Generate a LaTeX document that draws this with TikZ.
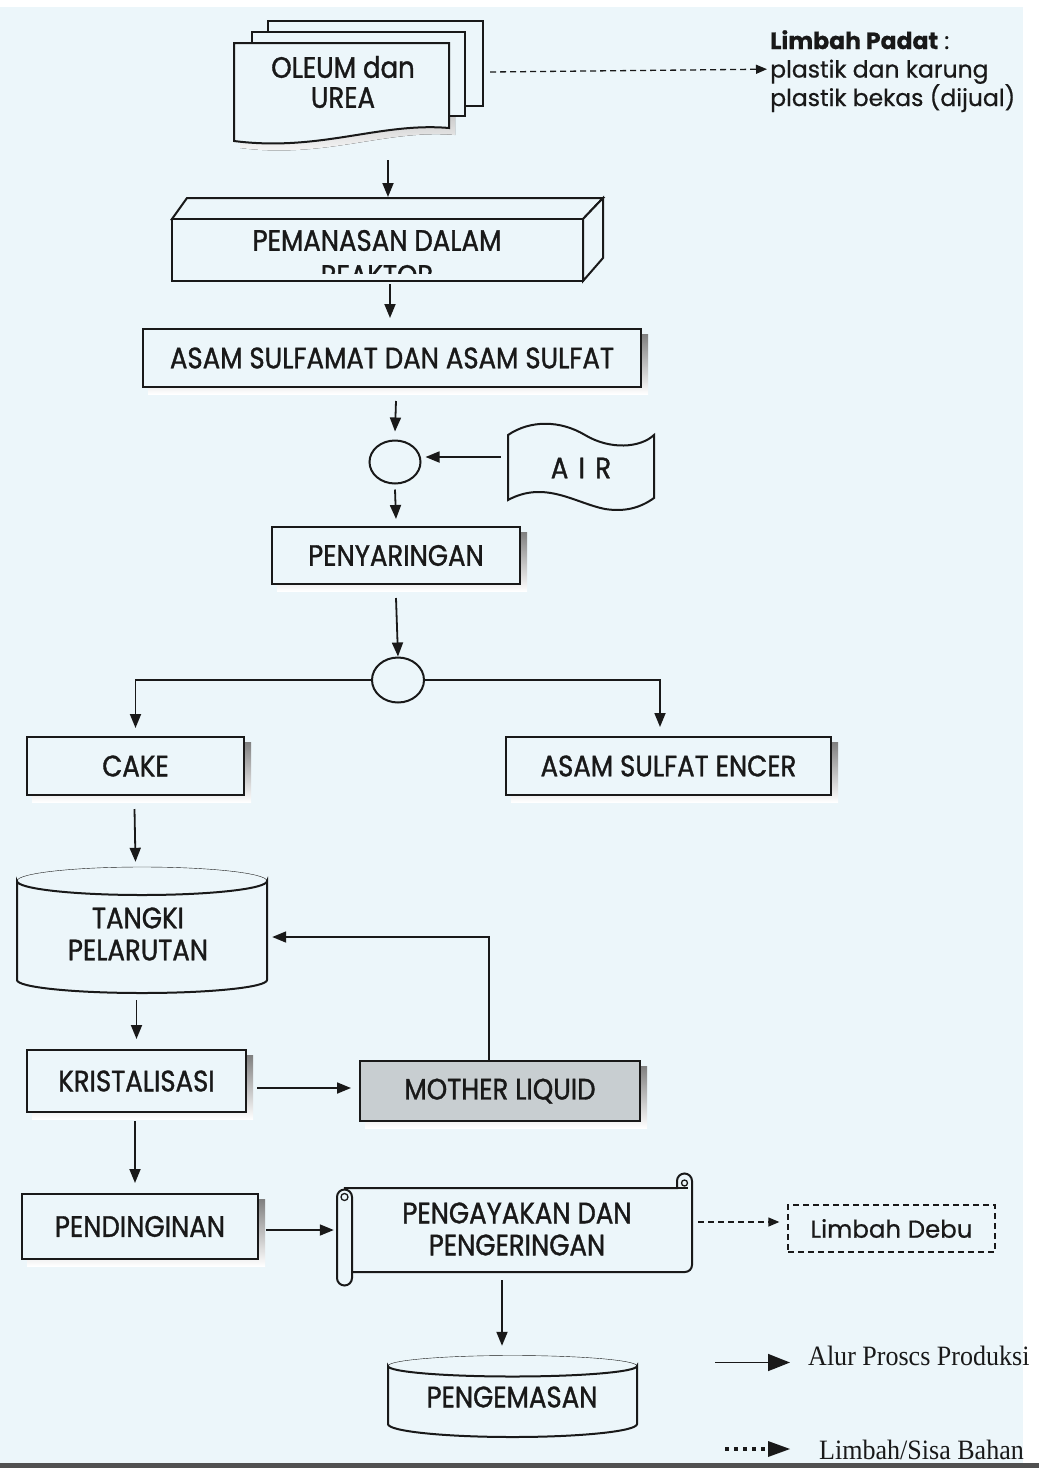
\documentclass[tikz,border=0pt]{standalone}
\usepackage{fontspec}
\setmainfont{Poppins}[FakeBold=0.6]
\newfontfamily\cg[FakeStretch=0.88,FakeBold=1.2]{Poppins}
\newfontfamily\tms[FakeStretch=0.93]{Liberation Serif}
\usetikzlibrary{arrows.meta,shapes.geometric}
\pgfdeclarelayer{bg}
\pgfsetlayers{bg,main}
\definecolor{paper}{RGB}{236,246,250}
\definecolor{ink}{RGB}{25,25,25}
\definecolor{shade}{RGB}{205,211,214}
\definecolor{mfill}{RGB}{200,206,209}
\definecolor{edge}{RGB}{80,80,80}
\begin{document}
\begin{tikzpicture}[x=1pt,y=-1pt,line width=2pt,
  every node/.style={text=ink},
  lbl/.style={font=\cg\fontsize{29.5}{31}\selectfont, align=center, inner sep=0pt},
  pbox/.style={lbl, draw=ink, line width=2pt, rectangle, fill=paper},
  zone/.style={inner sep=0pt, draw=none},
  ell/.style={draw=ink, line width=2pt, ellipse, inner sep=0pt, fill=paper},
  arr/.style={draw=ink, line width=1.8pt, -{Triangle[length=14pt,width=11pt]}},
  darr/.style={draw=ink, line width=1.3pt, dash pattern=on 6pt off 4pt, -{Triangle[length=11pt,width=9pt]}},
  legsolid/.style={draw=ink, line width=1.6pt, -{Triangle[length=22pt,width=17pt]}},
  legdot/.style={draw=ink, line width=4pt, dash pattern=on 4pt off 5pt, -{Triangle[length=22pt,width=16pt,line width=0pt]}},
  figshape/.style={draw=ink, line width=2pt, fill=paper}]
\useasboundingbox (0,0) rectangle (1039,1468);
\begin{pgfonlayer}{bg}
  \fill[paper] (0,0) rectangle (1039,1468);
  \fill[white] (0,0) rectangle (1039,7);
  \fill[white] (1023,0) rectangle (1039,1468);
  \fill[edge] (0,1463) rectangle (1039,1468);
\end{pgfonlayer}

% ---------- OLEUM dan UREA (multi document)
\filldraw[figshape] (268,21) rectangle (483,106);
\filldraw[figshape] (252,32) rectangle (465,116);
\filldraw[figshape] (234,43) -- (449,43) -- (449,128) .. controls (380,122) and (320,152) .. (234,141) -- cycle;
\node[zone, minimum width=249, minimum height=127] (oleumdoc) at (358.5,84.5) {};
\node[lbl, font=\cg\fontsize{29.5}{30}\selectfont] (oleum) at (343,82) {OLEUM dan\\UREA};

\node[font=\fontsize{23.5}{28.5}\selectfont, align=left, anchor=north west, inner sep=0pt] (padat) at (770,30)
  {\textbf{Limbah Padat} :\\plastik dan karung\\plastik bekas (dijual)};

% ---------- PEMANASAN DALAM REAKTOR (3D box)
\filldraw[figshape] (172,219) -- (187,198) -- (603,198) -- (583,219) -- cycle;
\filldraw[figshape] (583,219) -- (603,198) -- (603,258) -- (583,281) -- cycle;
\node[pbox, minimum width=411, minimum height=62] (reaktor) at (377.5,250) {};
\begin{scope}
  \clip (173,220) rectangle (582,273);
  \node[lbl, font=\cg\fontsize{29.5}{35}\selectfont] (reaktortxt) at (377,258) {PEMANASAN DALAM\\REAKTOR};
\end{scope}

% ---------- boxes
\node[pbox, minimum width=498, minimum height=58] (sulfamat) at (392,358) {ASAM SULFAMAT DAN ASAM SULFAT};
\node[ell, minimum width=51, minimum height=43] (mix1) at (395,462) {};

% AIR flag
\filldraw[figshape] (508,435) .. controls (530,420) and (560,420) .. (585,435)
  .. controls (610,450) and (640,448) .. (654,435) -- (654,498)
  .. controls (640,508) and (625,512) .. (605,509)
  .. controls (575,503) and (545,480) .. (508,500) -- cycle;
\node[zone, minimum width=146, minimum height=77] (air) at (581,467) {};
\node[lbl] (airtxt) at (581,468) {A\hspace{.35em}I\hspace{.35em}R};

\node[pbox, minimum width=248, minimum height=57] (penyaring) at (396,555.5) {PENYARINGAN};
\node[ell, minimum width=52, minimum height=45] (mix2) at (398,680) {};
\node[pbox, minimum width=217, minimum height=58] (cake) at (135.5,766) {CAKE};
\node[pbox, minimum width=325, minimum height=58] (encer) at (668.5,766) {ASAM SULFAT ENCER};

% TANGKI PELARUTAN (cylinder)
\filldraw[figshape] (17,881) -- (17,980) arc[start angle=180,end angle=0,x radius=125,y radius=13]
  -- (267,881) arc[start angle=0,end angle=180,x radius=125,y radius=14] -- cycle;
\draw[draw=ink] (142,881) ellipse[x radius=125,y radius=14];
\node[zone, minimum width=250, minimum height=127] (tangki) at (142,930.5) {};
\node[lbl, font=\cg\fontsize{29.5}{32}\selectfont] (tangkitxt) at (138,934) {TANGKI\\PELARUTAN};

\node[pbox, minimum width=219, minimum height=62] (kristal) at (136.5,1081) {KRISTALISASI};
\node[pbox, fill=mfill, minimum width=280, minimum height=60] (mother) at (500,1091) {MOTHER LIQUID};
\node[pbox, minimum width=236, minimum height=65] (pendingin) at (140,1226.5) {PENDINGINAN};

% PENGAYAKAN DAN PENGERINGAN (scroll)
\filldraw[figshape] (345,1188) -- (677,1188) -- (677,1181) arc[start angle=180,end angle=360,radius=7.5]
  -- (692,1265) arc[start angle=0,end angle=90,radius=7] -- (350,1272) -- cycle;
\draw[draw=ink, line width=1.3pt] (684.5,1183) circle[radius=3];
\draw[draw=ink, line width=1.3pt] (677,1188) -- (688,1188);
\filldraw[figshape] (337,1197) -- (337,1278) arc[start angle=180,end angle=0,radius=7.5]
  -- (352,1197) arc[start angle=0,end angle=-180,radius=7.5] -- cycle;
\draw[draw=ink, line width=1.3pt] (344.5,1197) circle[radius=3.5];
\node[zone, minimum width=355, minimum height=109] (ayak) at (514.5,1230.5) {};
\node[lbl, font=\cg\fontsize{29.5}{32}\selectfont] (ayaktxt) at (517,1229) {PENGAYAKAN DAN\\PENGERINGAN};

\node[draw=ink, line width=1.3pt, dash pattern=on 6pt off 4pt, inner sep=0pt, minimum width=207, minimum height=47,
  font=\fontsize{24.5}{25}\selectfont] (debu) at (891.5,1228.5) {Limbah Debu};

% PENGEMASAN (cylinder)
\filldraw[figshape] (388,1366) -- (388,1424) arc[start angle=180,end angle=0,x radius=124.5,y radius=13]
  -- (637,1366) arc[start angle=0,end angle=180,x radius=124.5,y radius=10.5] -- cycle;
\draw[draw=ink] (512.5,1366) ellipse[x radius=124.5,y radius=10.5];
\node[zone, minimum width=249, minimum height=81] (kemas) at (512.5,1396.5) {};
\node[lbl] (kemastxt) at (512,1397) {PENGEMASAN};

% ---------- connectors
\draw[arr] ([shift={(29.5,75.5)}]oleumdoc.center) -- ([shift={(10.5,-21)}]reaktor.north);
\draw[darr] ([shift={(7,-12.5)}]oleumdoc.east) -- ([shift={(-3,-2)}]padat.west);
\draw[arr] ([shift={(12.5,2)}]reaktor.south) -- ([shift={(-2,-10)}]sulfamat.north);
\draw[arr] ([shift={(4,13)}]sulfamat.south) -- ([yshift=8pt]mix1.north);
\draw[arr] ([shift={(-7,-10)}]air.west) -- ([shift={(4,-5)}]mix1.east);
\draw[arr] ([yshift=-5pt]mix1.south) -- ([yshift=7pt]penyaring.north);
\draw[arr] ([yshift=-13pt]penyaring.south) -- (mix2.north);
\draw[arr] (mix2.west) -| ([yshift=8pt]cake.north);
\draw[arr] (mix2.east) -| ([shift={(-8.5,-9)}]encer.north);
\draw[arr] ([shift={(-1,13)}]cake.south) -- ([yshift=5pt]cake.south |- tangki.north);
\draw[arr] ([yshift=-6pt]kristal.north |- tangki.south) -- ([yshift=10pt]kristal.north);
\draw[arr] ([shift={(10,7)}]kristal.east) -- ([shift={(-8,-3)}]mother.west);
\draw[arr] ([xshift=-11pt]mother.north) |- ([shift={(5,6.5)}]tangki.east);
\draw[arr] ([shift={(-1.5,8)}]kristal.south) -- ([shift={(-1.5,-10)}]kristal.south |- pendingin.north);
\draw[arr] ([shift={(7,3.5)}]pendingin.east) -- ([shift={(-3,-0.5)}]ayak.west);
\draw[darr] ([shift={(6,-8.5)}]ayak.east) -- ([shift={(-8,-6.5)}]debu.west);
\draw[arr] ([shift={(-12.5,-5)}]ayak.south) -- ([shift={(-10.5,-10)}]kemas.north);

% ---------- legend
\node[font=\tms\fontsize{28}{28}\selectfont, anchor=base west, inner sep=0pt] (legA) at (808,1365) {Alur Proscs Produksi};
\node[font=\tms\fontsize{28}{28}\selectfont, anchor=base west, inner sep=0pt] (legB) at (819,1459) {Limbah/Sisa Bahan};
\draw[legsolid] ([shift={(-93,-2.5)}]legA.base west) -- ([shift={(-18,-2.5)}]legA.base west);
\draw[legdot] ([shift={(-94,-10)}]legB.base west) -- ([shift={(-29,-10)}]legB.base west);

% ---------- shadows
\begin{pgfonlayer}{bg}
  \fill[shade] (240,50) -- (455,50) -- (455,135) .. controls (386,129) and (326,159) .. (240,148) -- cycle;
  \foreach \n in {sulfamat,penyaring,cake,encer,kristal,mother,pendingin}
    \fill[shade] ([shift={(6,6)}]\n.south west) rectangle ([shift={(6,6)}]\n.north east);
\end{pgfonlayer}
\end{tikzpicture}
\end{document}
